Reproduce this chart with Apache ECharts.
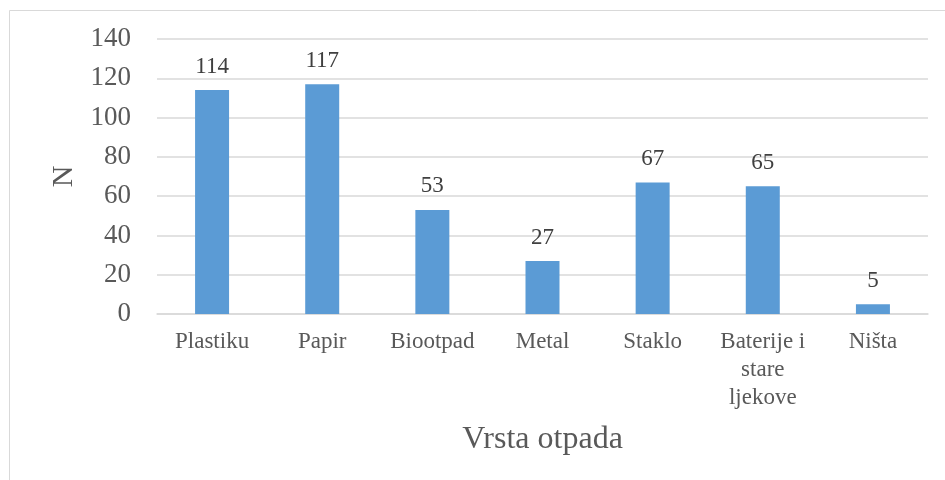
<!DOCTYPE html>
<html>
<head>
<meta charset="utf-8">
<script src="https://cdn.jsdelivr.net/npm/echarts@6/dist/echarts.min.js"></script>
<style>
	html, body {margin: 0;padding: 0;background: #fff;}
	#chart {width: 945px;height: 480px;}
</style>
</head>
<body>
<div id="chart"></div>
<script>
	// kategorije i vrijednosti
	var categories = ['Plastiku', 'Papir', 'Biootpad', 'Metal', 'Staklo', 'Baterije i\nstare\nljekove', 'Ništa'];
	var values = [114, 117, 53, 27, 67, 65, 5];
	var yTicks = {min: 0, max: 140, interval: 20};

	var font = '"Liberation Serif", "Times New Roman", serif';
	var txt = '#595959';
	var gridLine = '#D9D9D9';

	var myChart = echarts.init(document.getElementById('chart'));
	var option = {
		animation: false,
		backgroundColor: '#fff',
		graphic: [{
			type: 'rect', shape: {x: 9.5, y: 10.5, width: 960, height: 500},
			style: {fill: 'none', stroke: '#D9D9D9', lineWidth: 1}, silent: true
		}],
		grid: {left: 157, right: 17, top: 39, bottom: 166},
		xAxis: {
			type: 'category', data: categories,
			name: 'Vrsta otpada', nameLocation: 'middle', nameGap: 110,
			nameTextStyle: {fontFamily: font, fontSize: 32, color: txt},
			axisLine: {lineStyle: {color: gridLine, width: 1.5}},
			axisTick: {show: false},
			axisLabel: {fontFamily: font, fontSize: 23, color: txt, margin: 14, lineHeight: 28, interval: 0}
		},
		yAxis: {
			type: 'value', min: yTicks.min, max: yTicks.max, interval: yTicks.interval,
			name: 'N', nameLocation: 'middle', nameGap: 78,
			nameTextStyle: {fontFamily: font, fontSize: 30, color: txt},
			axisLine: {show: false}, axisTick: {show: false},
			axisLabel: {fontFamily: font, fontSize: 27, color: txt, margin: 26},
			splitLine: {lineStyle: {color: gridLine, width: 1.5}}
		},
		series: [{
			type: 'bar', data: values, barWidth: 34,
			itemStyle: {color: '#5B9BD5'},
			label: {show: true, position: 'top', distance: 12, fontFamily: font, fontSize: 23, color: '#404040'}
		}]
	};
	myChart.setOption(option);
</script>
</body>
</html>
